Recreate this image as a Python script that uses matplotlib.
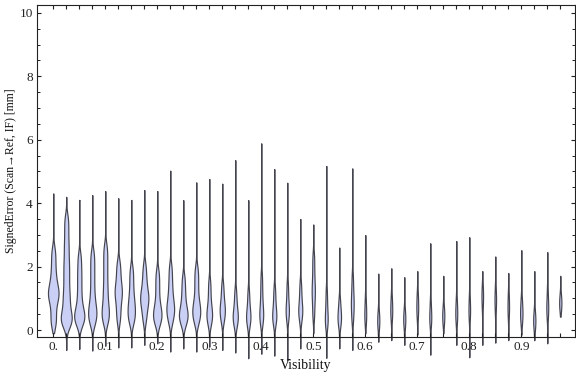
import numpy as np
import matplotlib
matplotlib.use("Agg")
import matplotlib.pyplot as plt

plt.rcParams['font.family'] = ['Liberation Serif', 'DejaVu Serif']

# visibility bins (left edge of each 0.025 bin)
visibility = [round(0.025 * i, 3) for i in range(40)]

# smallest / largest signed error in each bin [mm]
lows = [-0.10, -0.63, -0.60, -0.65, -0.50, -0.55, -0.55, -0.47, -0.42, -0.68,
        -0.58, -0.68, -0.53, -0.63, -0.71, -0.89, -0.75, -0.81, -0.95, -0.58,
        -0.10, -0.88, -0.58, -0.63, -0.10, -0.37, -0.32, -0.47, -0.15, -0.78,
        -0.10, -0.47, -0.86, -0.47, -0.40, -0.32, -0.15, -0.32, -0.42, 0.42]
highs = [4.30, 4.20, 4.10, 4.25, 4.38, 4.15, 4.10, 4.41, 4.38, 5.02,
         4.09, 4.65, 4.76, 4.61, 5.35, 4.09, 5.88, 5.07, 4.64, 3.50,
         3.33, 5.17, 2.60, 5.09, 2.99, 1.78, 1.95, 1.67, 1.86, 2.73,
         1.71, 2.80, 2.92, 1.86, 2.32, 1.80, 2.52, 1.86, 2.46, 1.71]

# representative errors where most of the pairs fall [mm]
bodies = [
    [0.15, 0.35, 0.6, 0.85, 1.0, 1.1, 1.2, 1.3, 1.45, 1.65, 1.9, 2.2, 2.5],
    [0.15, 0.25, 0.35, 0.45, 0.6, 0.8, 1.0, 1.2, 1.45, 1.7, 1.95, 2.2, 2.5,
     2.8, 3.15, 3.5],
    [0.2, 0.3, 0.4, 0.5, 0.6, 0.8, 1.05, 1.35, 1.65, 1.95, 2.3],
    [0.2, 0.35, 0.5, 0.6, 0.75, 0.95, 1.2, 1.5, 1.8, 2.1, 2.4],
    [0.25, 0.4, 0.55, 0.7, 0.9, 1.15, 1.4, 1.7, 2.0, 2.3, 2.6],
    [0.3, 0.55, 0.8, 1.0, 1.15, 1.25, 1.4, 1.6, 1.85, 2.1],
    [0.25, 0.4, 0.55, 0.7, 0.85, 1.05, 1.3, 1.6, 1.9],
    [0.3, 0.55, 0.75, 0.9, 1.0, 1.1, 1.25, 1.45, 1.7, 2.0],
    [0.2, 0.35, 0.45, 0.55, 0.7, 0.9, 1.2, 1.5, 1.8],
    [0.25, 0.45, 0.6, 0.7, 0.85, 1.05, 1.3, 1.6, 1.95],
    [0.2, 0.35, 0.45, 0.55, 0.7, 0.95, 1.25, 1.6],
    [0.25, 0.4, 0.55, 0.65, 0.8, 1.0, 1.3, 1.6, 1.9],
    [0.2, 0.35, 0.45, 0.55, 0.7, 0.9, 1.2, 1.5],
    [0.3, 0.45, 0.6, 0.7, 0.85, 1.1, 1.4],
    [0.15, 0.3, 0.4, 0.5, 0.65, 0.9, 1.2],
    [0.15, 0.3, 0.4, 0.5, 0.65, 0.9, 1.2],
    [0.2, 0.35, 0.5, 0.6, 0.8, 1.05, 1.35, 1.7],
    [0.2, 0.35, 0.45, 0.55, 0.75, 1.0, 1.3],
    [0.3, 0.5, 0.6, 0.7, 0.9, 1.15, 1.45],
    [0.3, 0.5, 0.6, 0.7, 0.9, 1.15, 1.45],
    [0.4, 0.7, 0.95, 1.15, 1.3, 1.5, 1.75, 2.05, 2.35],
    [0.1, 0.25, 0.35, 0.5, 0.7, 0.95, 1.25],
    [0.15, 0.3, 0.4, 0.5, 0.7, 0.95],
    [0.3, 0.55, 0.75, 0.9, 1.1, 1.35, 1.7],
    [0.2, 0.35, 0.5, 0.6, 0.8, 1.05],
    [0.05, 0.2, 0.3, 0.4, 0.6],
    [0.3, 0.5, 0.6, 0.7, 0.9, 1.1],
    [0.1, 0.25, 0.35, 0.45, 0.65],
    [0.35, 0.55, 0.7, 0.8, 1.0, 1.2],
    [0.15, 0.3, 0.4, 0.5, 0.7, 0.95],
    [0.2, 0.35, 0.45, 0.55, 0.75],
    [0.2, 0.4, 0.5, 0.6, 0.8, 1.0],
    [0.3, 0.5, 0.6, 0.7, 0.9, 1.1],
    [0.6, 0.85, 1.0, 1.1, 1.25, 1.45],
    [0.5, 0.75, 0.9, 1.0, 1.15, 1.4],
    [0.35, 0.55, 0.7, 0.8, 1.0, 1.2],
    [0.2, 0.4, 0.5, 0.6, 0.8, 1.0],
    [0.05, 0.2, 0.3, 0.4, 0.6],
    [0.35, 0.55, 0.7, 0.8, 1.0, 1.3],
    [0.65, 0.75, 0.85, 0.95, 1.1],
]

# number of scan pairs in each bin
counts = [88, 120, 73, 69, 69, 56, 54, 57, 54, 54,
          50, 54, 32, 28, 26, 22, 25, 22, 18, 22,
          28, 16, 16, 19, 9, 8, 9, 8, 9, 9,
          8, 9, 7.5, 7.5, 7.5, 7.5, 11, 8.5, 9.5, 8]

bw = 0.22


def smooth_stats(body, lo, hi, n):
    coords = np.linspace(lo, hi, 300)
    b = np.asarray(body)
    dens = np.exp(-0.5 * ((coords[:, None] - b[None, :]) / bw) ** 2).sum(axis=1)
    dens = n * dens / (len(b) * bw * np.sqrt(2 * np.pi))
    return dict(coords=coords, vals=dens, mean=b.mean(), median=np.median(b),
                min=lo, max=hi, quantiles=[])


stats = [smooth_stats(b, lo, hi, n) for b, lo, hi, n in zip(bodies, lows, highs, counts)]
peaks = np.array([s['vals'].max() for s in stats])
widths = 0.021 * peaks / peaks.max()

fig = plt.figure(figsize=(5.76, 3.77), dpi=100)
ax = fig.add_axes([0.0642, 0.1061, 0.9338, 0.8806])

parts = ax.violin(stats, positions=visibility, widths=widths,
                  showmeans=False, showextrema=False, showmedians=False)
for body in parts['bodies']:
    body.set_facecolor('#c9cff5')
    body.set_edgecolor('#44444f')
    body.set_linewidth(0.85)
    body.set_alpha(1)
    body.set_clip_on(False)

ax.set_xlim(-0.0313, 1.003)
ax.set_ylim(-0.22, 10.245)

ax.set_xticks([0.1 * i for i in range(10)])
ax.set_xticklabels(['0.'] + ['%.1f' % (0.1 * i) for i in range(1, 10)])
ax.set_xticks(visibility, minor=True)
ax.set_yticks(range(0, 11, 2))
ax.set_yticks(np.arange(0, 10.01, 0.5), minor=True)

ax.tick_params(axis='x', which='both', direction='in', top=True, length=3.2,
               width=0.8, color='#222222', labelsize=9.5, pad=3, labelcolor='#222222')
ax.tick_params(axis='y', which='major', direction='in', right=True, length=3.2,
               width=0.8, color='#222222', labelsize=9.5, pad=3, labelcolor='#222222')
ax.tick_params(axis='y', which='minor', direction='in', right=True, length=2.0,
               width=0.7, color='#222222')
for sp in ax.spines.values():
    sp.set_linewidth(0.8)
    sp.set_color('#222222')

ax.set_xlabel('Visibility', fontsize=10, labelpad=4, color='#111111')
ax.set_ylabel('SignedError (Scan\u2192Ref, IF) [mm]', fontsize=8.5, color='#111111')
ax.yaxis.set_label_coords(-0.038, 0.5)

fig.savefig('out.png', dpi=100)
